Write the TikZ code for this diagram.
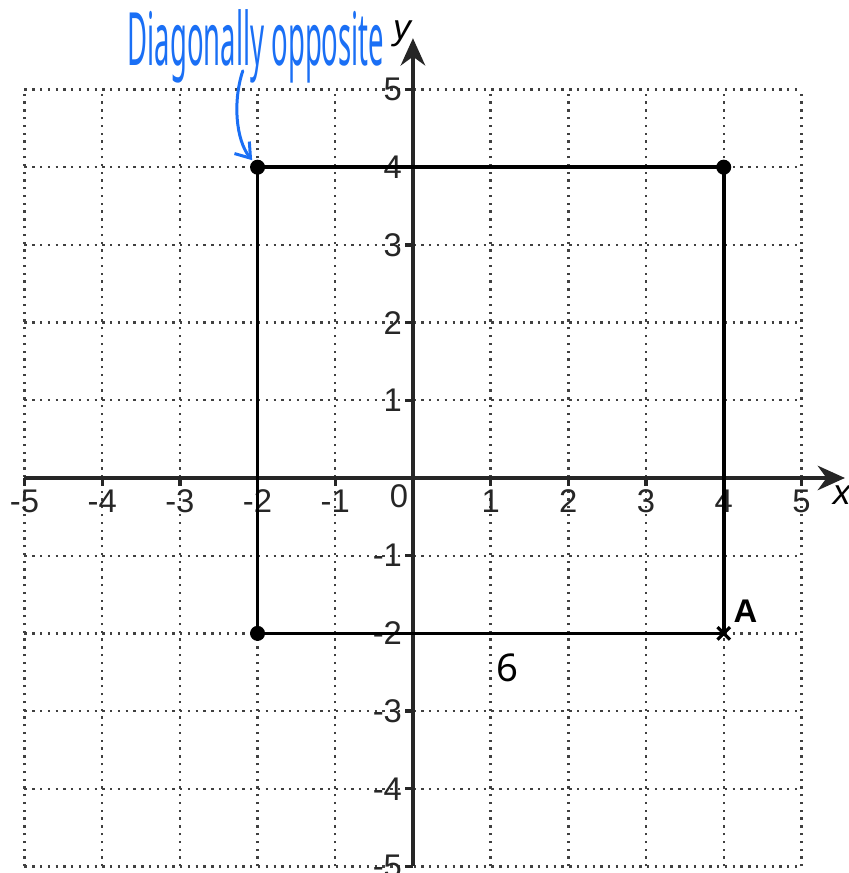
\documentclass[tikz,border=0pt]{standalone}
\usepackage{fontspec}
\setmainfont{Liberation Sans}
\newfontfamily\handfont{Noto Sans}
\usetikzlibrary{arrows.meta}
\definecolor{handblue}{HTML}{1A6FF5}
\begin{document}
\begin{tikzpicture}[x=1cm,y=1cm,
  axisline/.style={line width=1.2pt, draw=black!85, -{Stealth[length=10pt,width=9pt]}},
  gridline/.style={dotted, line width=0.85pt, black!75},
  tickmark/.style={line width=1.2pt, black!85},
  ticklabel/.style={font=\fontsize{12}{13}\selectfont, text=black!85, inner sep=1pt},
  rectline/.style={line width=1.3pt, black},
  dotpt/.style={circle, fill=black, inner sep=0pt, minimum size=5.5pt},
  handtext/.style={text=handblue, inner sep=0pt},
  handarrow/.style={handblue, line width=1.1pt, line cap=round, -{Straight Barb[length=5pt,width=7pt]}}]
\useasboundingbox (-5.315,-5.084) rectangle (5.611,6.152);
% grid
\draw[gridline] (-5,-5) grid (5,5);
% axes
\coordinate (xs) at (-5,0); \coordinate (xe) at (5.56,0);
\coordinate (ys) at (0,-5); \coordinate (ye) at (0,5.66);
\draw[axisline] (xs) -- (xe);
\draw[axisline] (ys) -- (ye);
\node[font=\itshape\fontsize{13}{14}\selectfont] (xl) at (5.52,-0.22) {x};
\node[font=\itshape\fontsize{13}{14}\selectfont] (yl) at (-0.14,5.72) {y};
% ticks
\foreach \i in {-5,-4,-3,-2,-1,1,2,3,4,5} {
  \draw[tickmark] (\i,0) -- (\i,-0.1);
  \node[ticklabel] (tx\i) at (\i,-0.3) {\i};
  \draw[tickmark] (0,\i) -- (-0.1,\i);
  \node[ticklabel, anchor=east] (ty\i) at (-0.1,\i) {\i};
}
\node[ticklabel] (t0) at (-0.18,-0.24) {0};
% rectangle
\node[dotpt] (p1) at (-2,4) {};
\node[dotpt] (p2) at (4,4) {};
\node[dotpt] (p3) at (-2,-2) {};
\coordinate (pA) at (4,-2);
\draw[rectline] (p1.center) -- (p2.center) -- (pA) -- (p3.center) -- cycle;
\draw[line width=1.2pt] (4,-2) +(-0.08,-0.08) -- +(0.08,0.08) +(-0.08,0.08) -- +(0.08,-0.08);
\node[font=\bfseries\fontsize{12}{13}\selectfont] (lA) at (4.28,-1.72) {A};
\node[font=\handfont\fontsize{14}{15}\selectfont] (six) at (1.22,-2.45) {6};
% annotation
\node[handtext] (note) at (-2.02,5.55) {\resizebox{3.3cm}{0.72cm}{\handfont Diagonally opposite}};
\coordinate (as) at (-2.19,5.24);
\draw[handarrow] (as) .. controls (-2.32,4.85) and (-2.28,4.35) .. ([shift={(-0.07,0.09)}]p1.center);
\end{tikzpicture}
\end{document}
